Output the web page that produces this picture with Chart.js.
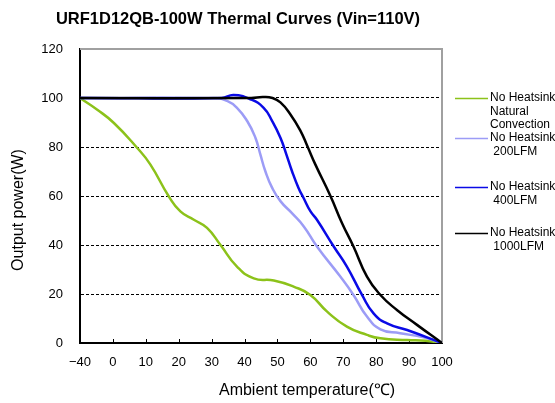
<!DOCTYPE html>
<html><head><meta charset="utf-8">
<script src="https://cdn.jsdelivr.net/npm/chart.js@4.4.1/dist/chart.umd.min.js"></script>
<style>html,body{margin:0;padding:0;background:#fff}#wrap{width:555px;height:403px}</style>
</head><body><div id="wrap"><canvas id="c" width="555" height="403"></canvas></div>
<script>
const chartTitle = 'URF1D12QB-100W Thermal Curves (Vin=110V)';
const xTitle = 'Ambient temperature(\u2103)';
const yTitle = 'Output power(W)';
// x axis tick temperatures (non-uniform: -40 then 0..100 step 10) and labels
const xTickTemps = [-40, 0, 10, 20, 30, 40, 50, 60, 70, 80, 90, 100];
const xTickLabels = ['\u221240', '0', '10', '20', '30', '40', '50', '60', '70', '80', '90', '100'];
const yTicks = [0, 20, 40, 60, 80, 100, 120];

const seriesNames = [
  ['No Heatsink', 'Natural', 'Convection'],
  ['No Heatsink', ' 200LFM'],
  ['No Heatsink', ' 400LFM'],
  ['No Heatsink', ' 1000LFM']
];

const naturalT = [-40, -19, 0.3, 7.4, 11.4, 17, 20.5, 24.6, 28.6, 32.7, 37.7, 42.8, 48.9, 54.9, 60, 65.1, 71.1, 77.2, 81.3, 89.4, 95, 100];
const naturalP = [100, 95.2, 89.8, 79.6, 72.8, 59.8, 53.7, 50.3, 47, 40, 31.2, 26.4, 25.5, 23, 19.6, 12.8, 6.7, 3.3, 1.9, 1.2, 0.9, 0];

const lfm200T = [-40, 30.6, 34.7, 37.7, 40.8, 43.3, 44.8, 46.3, 48.4, 50.9, 54.4, 58, 62, 69.1, 73.1, 77.2, 81.3, 87.3, 94.4, 100];
const lfm200P = [100, 100, 98.8, 96, 90.6, 83.8, 77, 70.2, 63.3, 57.9, 53, 47.6, 39.4, 27.1, 19.6, 10.8, 5.6, 4, 2.3, 0];

const lfm400T = [-40, 33, 36.7, 41.8, 45.8, 48.4, 50.9, 52.7, 54.4, 56.4, 57.9, 60, 62, 67.1, 71.1, 75.7, 79.2, 83.3, 89.4, 100];
const lfm400P = [100, 100, 101.2, 99.5, 96, 90.6, 83.8, 77, 70.2, 63.3, 59.3, 53.8, 50.3, 39.4, 31.2, 19.6, 12.1, 8, 5.3, 0];

const lfm1000T = [-40, 42, 45.5, 48.5, 50.9, 53.9, 57, 59.2, 61.5, 66.1, 69.6, 73.1, 77.2, 81.3, 86.3, 92.4, 100];
const lfm1000P = [100, 100, 100.4, 100, 98.2, 93.4, 86.6, 80, 72.9, 60, 49, 39.4, 27.1, 19.6, 13.5, 7.4, 0];

const colors = ['#8cc21a', '#9c9cf6', '#0a0ae6', '#000000'];

// map temperature to evenly spaced tick position
function pos(t) {
  for (let i = 0; i < xTickTemps.length - 1; i++) {
    const a = xTickTemps[i], b = xTickTemps[i + 1];
    if (t <= b) return i + (t - a) / (b - a);
  }
  return xTickTemps.length - 1;
}
function pts(T, P) { return T.map((t, i) => ({ x: pos(t), y: P[i] })); }

const seriesData = [pts(naturalT, naturalP), pts(lfm200T, lfm200P), pts(lfm400T, lfm400P), pts(lfm1000T, lfm1000P)];

const FONT = '"Liberation Sans", Arial, sans-serif';

const decor = {
  id: 'decor',
  beforeDatasetsDraw(chart) {
    const { ctx, chartArea: a, scales } = chart;
    ctx.save();
    ctx.strokeStyle = '#a0a0a0';
    ctx.lineWidth = 2;
    ctx.beginPath();
    ctx.moveTo(a.left, a.top); ctx.lineTo(a.right, a.top); ctx.lineTo(a.right, a.bottom);
    ctx.stroke();
    ctx.strokeStyle = '#000';
    ctx.lineWidth = 1;
    for (let i = 1; i < xTickTemps.length - 1; i++) {
      const x = Math.round(scales.x.getPixelForValue(i)) + 0.5;
      ctx.beginPath(); ctx.moveTo(x, a.bottom); ctx.lineTo(x, a.bottom - 4); ctx.stroke();
    }
    ctx.restore();
  },
  afterDraw(chart) {
    const { ctx } = chart;
    ctx.save();
    ctx.fillStyle = '#000';
    ctx.textBaseline = 'middle';
    ctx.font = 'bold 16.5px ' + FONT;
    ctx.textAlign = 'center';
    ctx.fillText(chartTitle, 238, 19);
    ctx.font = '16px ' + FONT;
    ctx.fillText(xTitle, 307, 391);
    ctx.save();
    ctx.translate(19, 210);
    ctx.rotate(-Math.PI / 2);
    ctx.fillText(yTitle, 0, 0);
    ctx.restore();
    const legendY = [98, 138, 187, 233];
    ctx.font = '12px ' + FONT;
    ctx.textAlign = 'left';
    seriesData.forEach((d, i) => {
      const y = legendY[i];
      ctx.strokeStyle = colors[i];
      ctx.lineWidth = 1.5;
      ctx.beginPath(); ctx.moveTo(455, y + 0.5); ctx.lineTo(488, y + 0.5); ctx.stroke();
      seriesNames[i].forEach((line, j) => {
        ctx.fillText(line, 490, y + j * 13.5);
      });
    });
    ctx.restore();
  }
};

new Chart(document.getElementById('c'), {
  type: 'line',
  data: {
    datasets: seriesData.map((d, i) => ({
      label: seriesNames[i].join(' '),
      data: d,
      order: seriesData.length - i,
      borderColor: colors[i],
      borderWidth: 2.5,
      pointRadius: 0,
      tension: 0.5,
      fill: false
    }))
  },
  options: {
    responsive: false,
    animation: false,
    layout: { padding: { left: 0, right: 113, top: 49, bottom: 0 } },
    plugins: { legend: { display: false }, title: { display: false }, tooltip: { enabled: false } },
    scales: {
      x: {
        type: 'linear', min: 0, max: xTickTemps.length - 1,
        afterFit(s) { s.height = 60; },
        afterBuildTicks(s) { s.ticks = xTickTemps.map((t, i) => ({ value: i })); },
        ticks: {
          callback: (v) => xTickLabels[v],
          font: { family: FONT, size: 13 }, color: '#000', padding: 12, maxRotation: 0, autoSkip: false
        },
        grid: { display: false, drawTicks: false },
        border: { display: true, color: '#000', width: 2 }
      },
      y: {
        min: 0, max: 120,
        afterFit(s) { s.width = 80; },
        afterBuildTicks(s) { s.ticks = yTicks.map(v => ({ value: v })); },
        ticks: { font: { family: FONT, size: 13 }, color: '#000', padding: 17 },
        grid: {
          drawTicks: false,
          color: (c) => (c.tick && (c.tick.value === 0 || c.tick.value === 120)) ? 'rgba(0,0,0,0)' : '#000',
          lineWidth: 1
        },
        border: { display: true, color: '#000', width: 2, dash: [3, 2] }
      }
    }
  },
  plugins: [decor]
});
</script></body></html>
